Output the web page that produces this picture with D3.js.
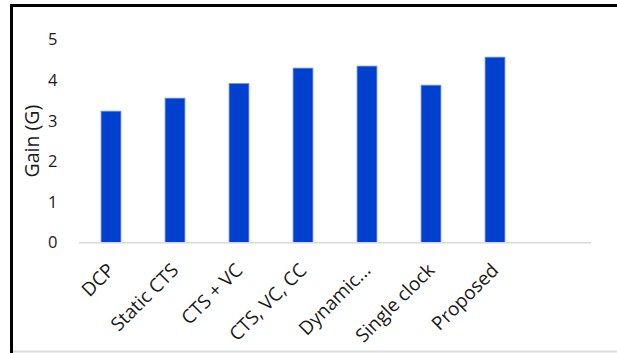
<!DOCTYPE html>
<html>
<head>
<meta charset="utf-8">
<script src="https://cdn.jsdelivr.net/npm/d3@7"></script>
<style>
  html, body { margin: 0; padding: 0; background: #fff; }
  svg { display: block; }
  text { font-family: "Open Sans", "Noto Sans", sans-serif; fill: #1a1a1a; }
</style>
</head>
<body>
<svg id="chart" width="617" height="353"></svg>
<script>
// Gain per clocking approach
const categories = ["DCP", "Static CTS", "CTS + VC", "CTS, VC, CC", "Dynamic...", "Single clock", "Proposed"];
const gainValues = [3.24, 3.56, 3.92, 4.30, 4.35, 3.88, 4.57];
const yTicks = [0, 1, 2, 3, 4, 5];
const yTitle = "Gain (G)";

const svg = d3.select("#chart");
const W = 617, H = 353;

// frame: heavy black top/left edges, faint bottom edge
svg.append("line").attr("x1", 11.5).attr("x2", W).attr("y1", 5.5).attr("y2", 5.5)
  .attr("stroke", "#000").attr("stroke-width", 3);
svg.append("line").attr("x1", 11.5).attr("x2", 11.5).attr("y1", 4).attr("y2", H)
  .attr("stroke", "#000").attr("stroke-width", 3);
svg.append("line").attr("x1", 13).attr("x2", W).attr("y1", 351.5).attr("y2", 351.5)
  .attr("stroke", "#dcdcdc").attr("stroke-width", 2);

const plot = { left: 79, right: 591, top: 39.7, bottom: 242.7 };

// one trailing empty slot keeps the axis running past the last bar
const x = d3.scaleBand()
  .domain(categories.concat([""]))
  .range([plot.left, plot.right])
  .paddingInner(0.69)
  .paddingOuter(0.345);

const y = d3.scaleLinear().domain([0, 5]).range([plot.bottom, plot.top]);

// bars
svg.append("g").selectAll("rect")
  .data(categories.map((c, i) => ({ c, v: gainValues[i] })))
  .join("rect")
  .attr("x", d => x(d.c))
  .attr("width", x.bandwidth())
  .attr("y", d => y(d.v))
  .attr("height", d => y(0) - y(d.v))
  .attr("fill", "#0040cf")
  .attr("stroke", "#6e92ea")
  .attr("stroke-width", 0.8);

// baseline
svg.append("line")
  .attr("x1", plot.left).attr("x2", plot.right)
  .attr("y1", y(0)).attr("y2", y(0))
  .attr("stroke", "#d9d9d9").attr("stroke-width", 1.5);

// y axis labels
const yAxis = d3.axisLeft(y).tickValues(yTicks).tickSize(0).tickPadding(0).tickFormat(d3.format("d"));
const yg = svg.append("g").attr("transform", `translate(${57.5},0)`).call(yAxis);
yg.select(".domain").remove();
yg.selectAll("text").attr("font-size", 16.5).style("font-family", "\"Open Sans\", sans-serif").attr("fill", "#1a1a1a");

// x axis labels, rotated
const xAxis = d3.axisBottom(x).tickSize(0).tickPadding(0);
const xg = svg.append("g").attr("transform", `translate(0,${plot.bottom})`).call(xAxis);
xg.select(".domain").remove();
xg.selectAll(".tick text")
  .attr("font-size", 19)
  .style("font-family", "\"Open Sans\", sans-serif")
  .attr("fill", "#1a1a1a")
  .attr("text-anchor", "end")
  .attr("dy", "0.35em")
  .attr("transform", "translate(0,24) rotate(-45)");

// y axis title
svg.append("text")
  .attr("transform", `translate(32,${(plot.top + plot.bottom) / 2}) rotate(-90)`)
  .attr("text-anchor", "middle")
  .attr("dy", "0.35em")
  .attr("font-size", 19.5)
  .text(yTitle);
</script>
</body>
</html>
